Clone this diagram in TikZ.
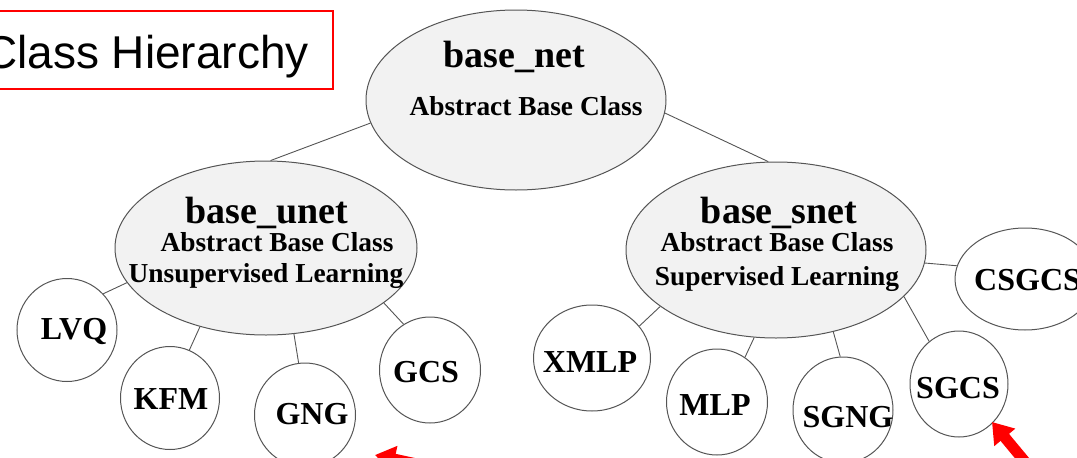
\documentclass[tikz,border=0pt]{standalone}
\usepackage{fontspec}
\setmainfont{Liberation Serif}
\newfontfamily\arialfont{Liberation Sans}
\usetikzlibrary{shapes.geometric,arrows.meta}
\definecolor{edgegray}{HTML}{555555}
\definecolor{fillgray}{HTML}{F2F2F2}
\definecolor{hred}{HTML}{FF0000}
\begin{document}
\begin{tikzpicture}[x=1pt,y=-1pt,
  bigell/.style={ellipse, draw=edgegray, fill=fillgray, line width=1pt, inner sep=0pt},
  leaf/.style={ellipse, draw=edgegray, fill=white, line width=1pt, inner sep=0pt},
  conn/.style={draw=edgegray, line width=0.9pt},
  ttl/.style={inner sep=0pt, anchor=base, font=\fontsize{38}{40}\selectfont\bfseries},
  sub/.style={inner sep=0pt, anchor=base, font=\fontsize{27.4}{30}\selectfont\bfseries},
  lbl/.style={inner sep=0pt, anchor=base, font=\fontsize{32}{34}\selectfont\bfseries},
  titlebox/.style={rectangle, draw=hred, line width=2pt, inner sep=0pt, fill=white},
  redarrow/.style={draw=hred, line width=11pt, -{Triangle[length=20pt,width=26pt]}}
]
\useasboundingbox (0,0) rectangle (1077,458);

% title box
\node[titlebox, minimum width=345, minimum height=78] (box) at (160.5,50) {};
\node[inner sep=0pt, anchor=base east, font=\arialfont\fontsize{46}{50}\selectfont] (boxtext) at (309,68) {Class Hierarchy};

% abstract classes
\node[bigell, minimum width=300, minimum height=180] (bnet) at (516,100) {};
\node[bigell, minimum width=302, minimum height=174] (bunet) at (266,248) {};
\node[bigell, minimum width=300, minimum height=176] (bsnet) at (776,250) {};

% leaves
\node[leaf, minimum width=100, minimum height=103] (lvq) at (67,330) {};
\node[leaf, minimum width=99, minimum height=103] (kfm) at (170,398) {};
\node[leaf, minimum width=101, minimum height=104] (gng) at (305,415) {};
\node[leaf, minimum width=101, minimum height=106] (gcs) at (430,370) {};
\node[leaf, minimum width=117, minimum height=106] (xmlp) at (592,358) {};
\node[leaf, minimum width=101, minimum height=106] (mlp) at (717,402) {};
\node[leaf, minimum width=100, minimum height=106] (sgng) at (843,410) {};
\node[leaf, minimum width=98, minimum height=106] (sgcs) at (959,384) {};
\node[leaf, minimum width=140, minimum height=102] (csgcs) at (1025,279) {};

% connectors
\draw[conn] (bnet.189) -- (bunet.87);
\draw[conn] (bnet.355) -- (bsnet.95);
\draw[conn] (bunet.194) -- (lvq.45);
\draw[conn] (bunet.230) -- (kfm.68);
\draw[conn] (bunet.288) -- (gng.97);
\draw[conn] (bunet.335) -- (gcs.120);
\draw[conn] (bsnet.206) -- (xmlp.34);
\draw[conn] (bsnet.256) -- (mlp.58);
\draw[conn] (bsnet.305) -- (sgng.93);
\draw[conn] (bsnet.340) -- (sgcs.125);
\draw[conn] (bsnet.355) -- (csgcs.169);

% texts
\node[ttl] (tnet) at (514,67) {base\_net};
\node[sub] (snet) at (526,115) {Abstract Base Class};
\node[ttl] (tunet) at (267,223) {base\_unet};
\node[sub] (sunet1) at (277,251) {Abstract Base Class};
\node[sub] (sunet2) at (266,282) {Unsupervised Learning};
\node[ttl] (tsnet) at (779,223) {base\_snet};
\node[sub] (ssnet1) at (777,251) {Abstract Base Class};
\node[sub] (ssnet2) at (777,285) {Supervised Learning};

\node[lbl] (llvq) at (74,339) {LVQ};
\node[lbl] (lkfm) at (171,409) {KFM};
\node[lbl] (lgng) at (312,424) {GNG};
\node[lbl] (lgcs) at (426,382) {GCS};
\node[lbl] (lxmlp) at (590,372) {XMLP};
\node[lbl] (lmlp) at (715,415) {MLP};
\node[lbl] (lsgng) at (848,427) {SGNG};
\node[lbl] (lsgcs) at (958,398) {SGCS};
\node[lbl, anchor=base west] (lcsgcs) at (974,290) {CSGCS};

% red arrows
\coordinate (a1tail) at (472,476);
\coordinate (a1tip) at (375,455);
\draw[redarrow] (a1tail) -- (a1tip);
\coordinate (a2tail) at (1056,499);
\coordinate (a2tip) at (992,422);
\draw[redarrow] (a2tail) -- (a2tip);
\end{tikzpicture}
\end{document}
